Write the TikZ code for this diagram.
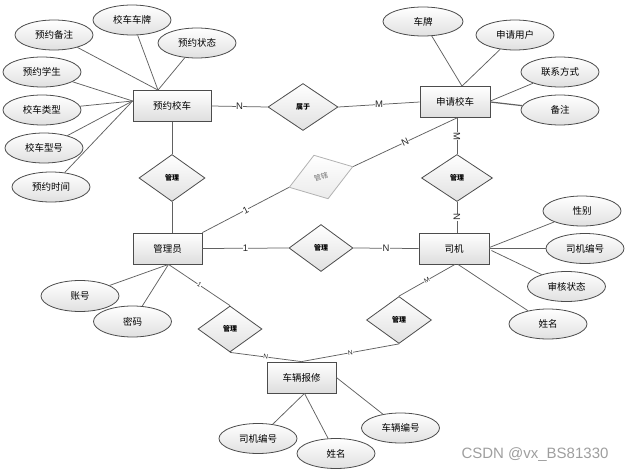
\documentclass[tikz,border=0pt]{standalone}
\usepackage{fontspec}
\setmainfont{Liberation Sans}
\newfontfamily\cjk{Noto Sans CJK SC}
\usetikzlibrary{shapes.geometric}
\tikzset{
  conn/.style={draw=black!62, line width=0.75pt},
  ent/.style={rectangle, draw=black!70, line width=0.8pt, top color=white, bottom color=black!13,
    minimum width=69pt, minimum height=31pt, inner sep=0pt, font=\cjk\fontsize{9.5}{11}\selectfont},
  attr/.style={ellipse, draw=black!70, line width=0.8pt, top color=white, bottom color=black!12,
    minimum width=78pt, minimum height=30pt, inner sep=0pt, font=\cjk\fontsize{9.5}{11}\selectfont},
  rel/.style={diamond, draw=black!70, line width=0.8pt, top color=white, bottom color=black!12,
    minimum width=66pt, minimum height=47pt, inner sep=0pt, font=\cjk\bfseries\fontsize{7}{8}\selectfont},
  card/.style={fill=white, inner sep=0.3pt, font=\fontsize{9.5}{10}\selectfont, text=black!85},
  cards/.style={card, font=\fontsize{6.5}{7}\selectfont},
}
\begin{document}
\begin{tikzpicture}[x=1pt, y=-1pt]
\useasboundingbox (0,0) rectangle (625,471);

% ---------------- entities
\node[ent, minimum width=78pt] (yy) at (172,106) {预约校车};
\node[ent, minimum width=70pt] (sq) at (455,102) {申请校车};
\node[ent] (gly) at (167.5,248.5) {管理员};
\node[ent, minimum width=70pt] (sj) at (454,248.5) {司机};
\node[ent] (wx) at (301.5,377.5) {车辆报修};

% ---------------- relationships
\node[rel, minimum width=70pt] (sy) at (303,107) {属于};
\node[rel] (gl1) at (172,178) {管理};
\node[rel, minimum width=71pt] (gl3) at (457,178) {管理};
\node[rel, minimum width=64pt] (gl2) at (321,248) {管理};
\node[rel, minimum width=65pt] (gl4) at (399,320) {管理};
\node[rel, minimum width=64pt, minimum height=46pt] (gl5) at (230,329) {管理};
\node[rel, rotate=18, minimum width=67pt, minimum height=46pt, draw=black!30,
      top color=white, bottom color=black!8, text=black!55,
      font=\cjk\fontsize{7}{8}\selectfont] (gx) at (321,177) {管辖};

% ---------------- attributes
\node[attr] (a1) at (54,35) {预约备注};
\node[attr] (a2) at (132,20) {校车车牌};
\node[attr] (a3) at (197,43) {预约状态};
\node[attr] (a4) at (42,72) {预约学生};
\node[attr] (a5) at (42,110) {校车类型};
\node[attr] (a6) at (44,148) {校车型号};
\node[attr] (a7) at (51,187) {预约时间};

\node[attr, minimum width=80pt, minimum height=29pt] (b1) at (423,21.5) {车牌};
\node[attr] (b2) at (515,35) {申请用户};
\node[attr] (b3) at (560,72) {联系方式};
\node[attr] (b4) at (560,110) {备注};

\node[attr] (c1) at (582,211) {性别};
\node[attr] (c2) at (585,248.5) {司机编号};
\node[attr] (c3) at (566.5,286.5) {审核状态};
\node[attr] (c4) at (548,324) {姓名};

\node[attr] (d1) at (258,438.5) {司机编号};
\node[attr] (d2) at (336,453.5) {姓名};
\node[attr] (d3) at (400.5,428) {车辆编号};

\node[attr, minimum height=31pt] (e1) at (80,296) {账号};
\node[attr, minimum height=31pt] (e2) at (132.5,321.5) {密码};

% ---------------- attribute connectors
\coordinate (yyT) at ([xshift=-14pt]yy.north);
\coordinate (yyL) at ([yshift=5pt]yy.west);
\foreach \a in {a1,a2,a3} \draw[conn] (\a) -- (yyT);
\foreach \a in {a4,a5,a6,a7} \draw[conn] (\a) -- (yyL);

\coordinate (sqT) at ([xshift=7pt]sq.north);
\draw[conn] (b1) -- (sqT);
\draw[conn] (b2) -- (sqT);
\draw[conn] (b3) -- ([yshift=1pt]sq.east);
\draw[conn, line width=1.2pt] (b4) -- (sq.east);

\draw[conn] (c1) -- ([yshift=1pt]sj.east);
\draw[conn] (c2) -- (sj.east);
\draw[conn] (c3) -- ([xshift=2pt,yshift=-2pt]sj.east);
\draw[conn] (c4) -- ([xshift=4pt]sj.south);

\coordinate (wxB) at ([xshift=3pt]wx.south);
\draw[conn] (d1) -- (wxB);
\draw[conn] (d2) -- (wxB);
\draw[conn] (d3) -- (wx.east);

\coordinate (glyB) at ([xshift=1pt]gly.south);
\draw[conn] (e1) -- (glyB);
\draw[conn] (e2) -- (glyB);

% ---------------- relationship connectors
\draw[conn] (yy.east) -- node[card]{N} (sy.west);
\draw[conn] (sy.east) -- node[card]{M} (sq.west);

\draw[conn] (yy.south) -- (gl1.north);
\draw[conn] (gl1.south) -- (gl1.south |- gly.north);

\draw[conn] (gly.north east) -- node[card, sloped]{1} (gx.west);
\draw[conn] (gx.east) -- node[card, sloped]{N} ([xshift=2pt]sq.south);

\draw[conn] (gl3.north |- sq.south) -- node[card, rotate=-90]{M} (gl3.north);
\draw[conn] (gl3.south) -- node[card, rotate=-90]{N} (gl3.south |- sj.north);

\draw[conn] (gly.east) -- node[card]{1} (gl2.west);
\draw[conn] (gl2.east) -- node[card]{N} (sj.west);

\draw[conn] ([xshift=1pt]sj.south) -- node[cards, sloped]{M} (gl4.north);
\draw[conn] (gl4.south) -- node[cards, sloped]{N} (wx.north);

\draw[conn] (glyB) -- node[cards, sloped]{1} (gl5.north);
\draw[conn] (gl5.south) -- node[cards, sloped]{N} (wx.north);

% ---------------- watermark
\node[text=black!38, font=\fontsize{15}{16}\selectfont, inner sep=0pt] (wm) at (535,455) {CSDN @vx\_BS81330};
\end{tikzpicture}
\end{document}
